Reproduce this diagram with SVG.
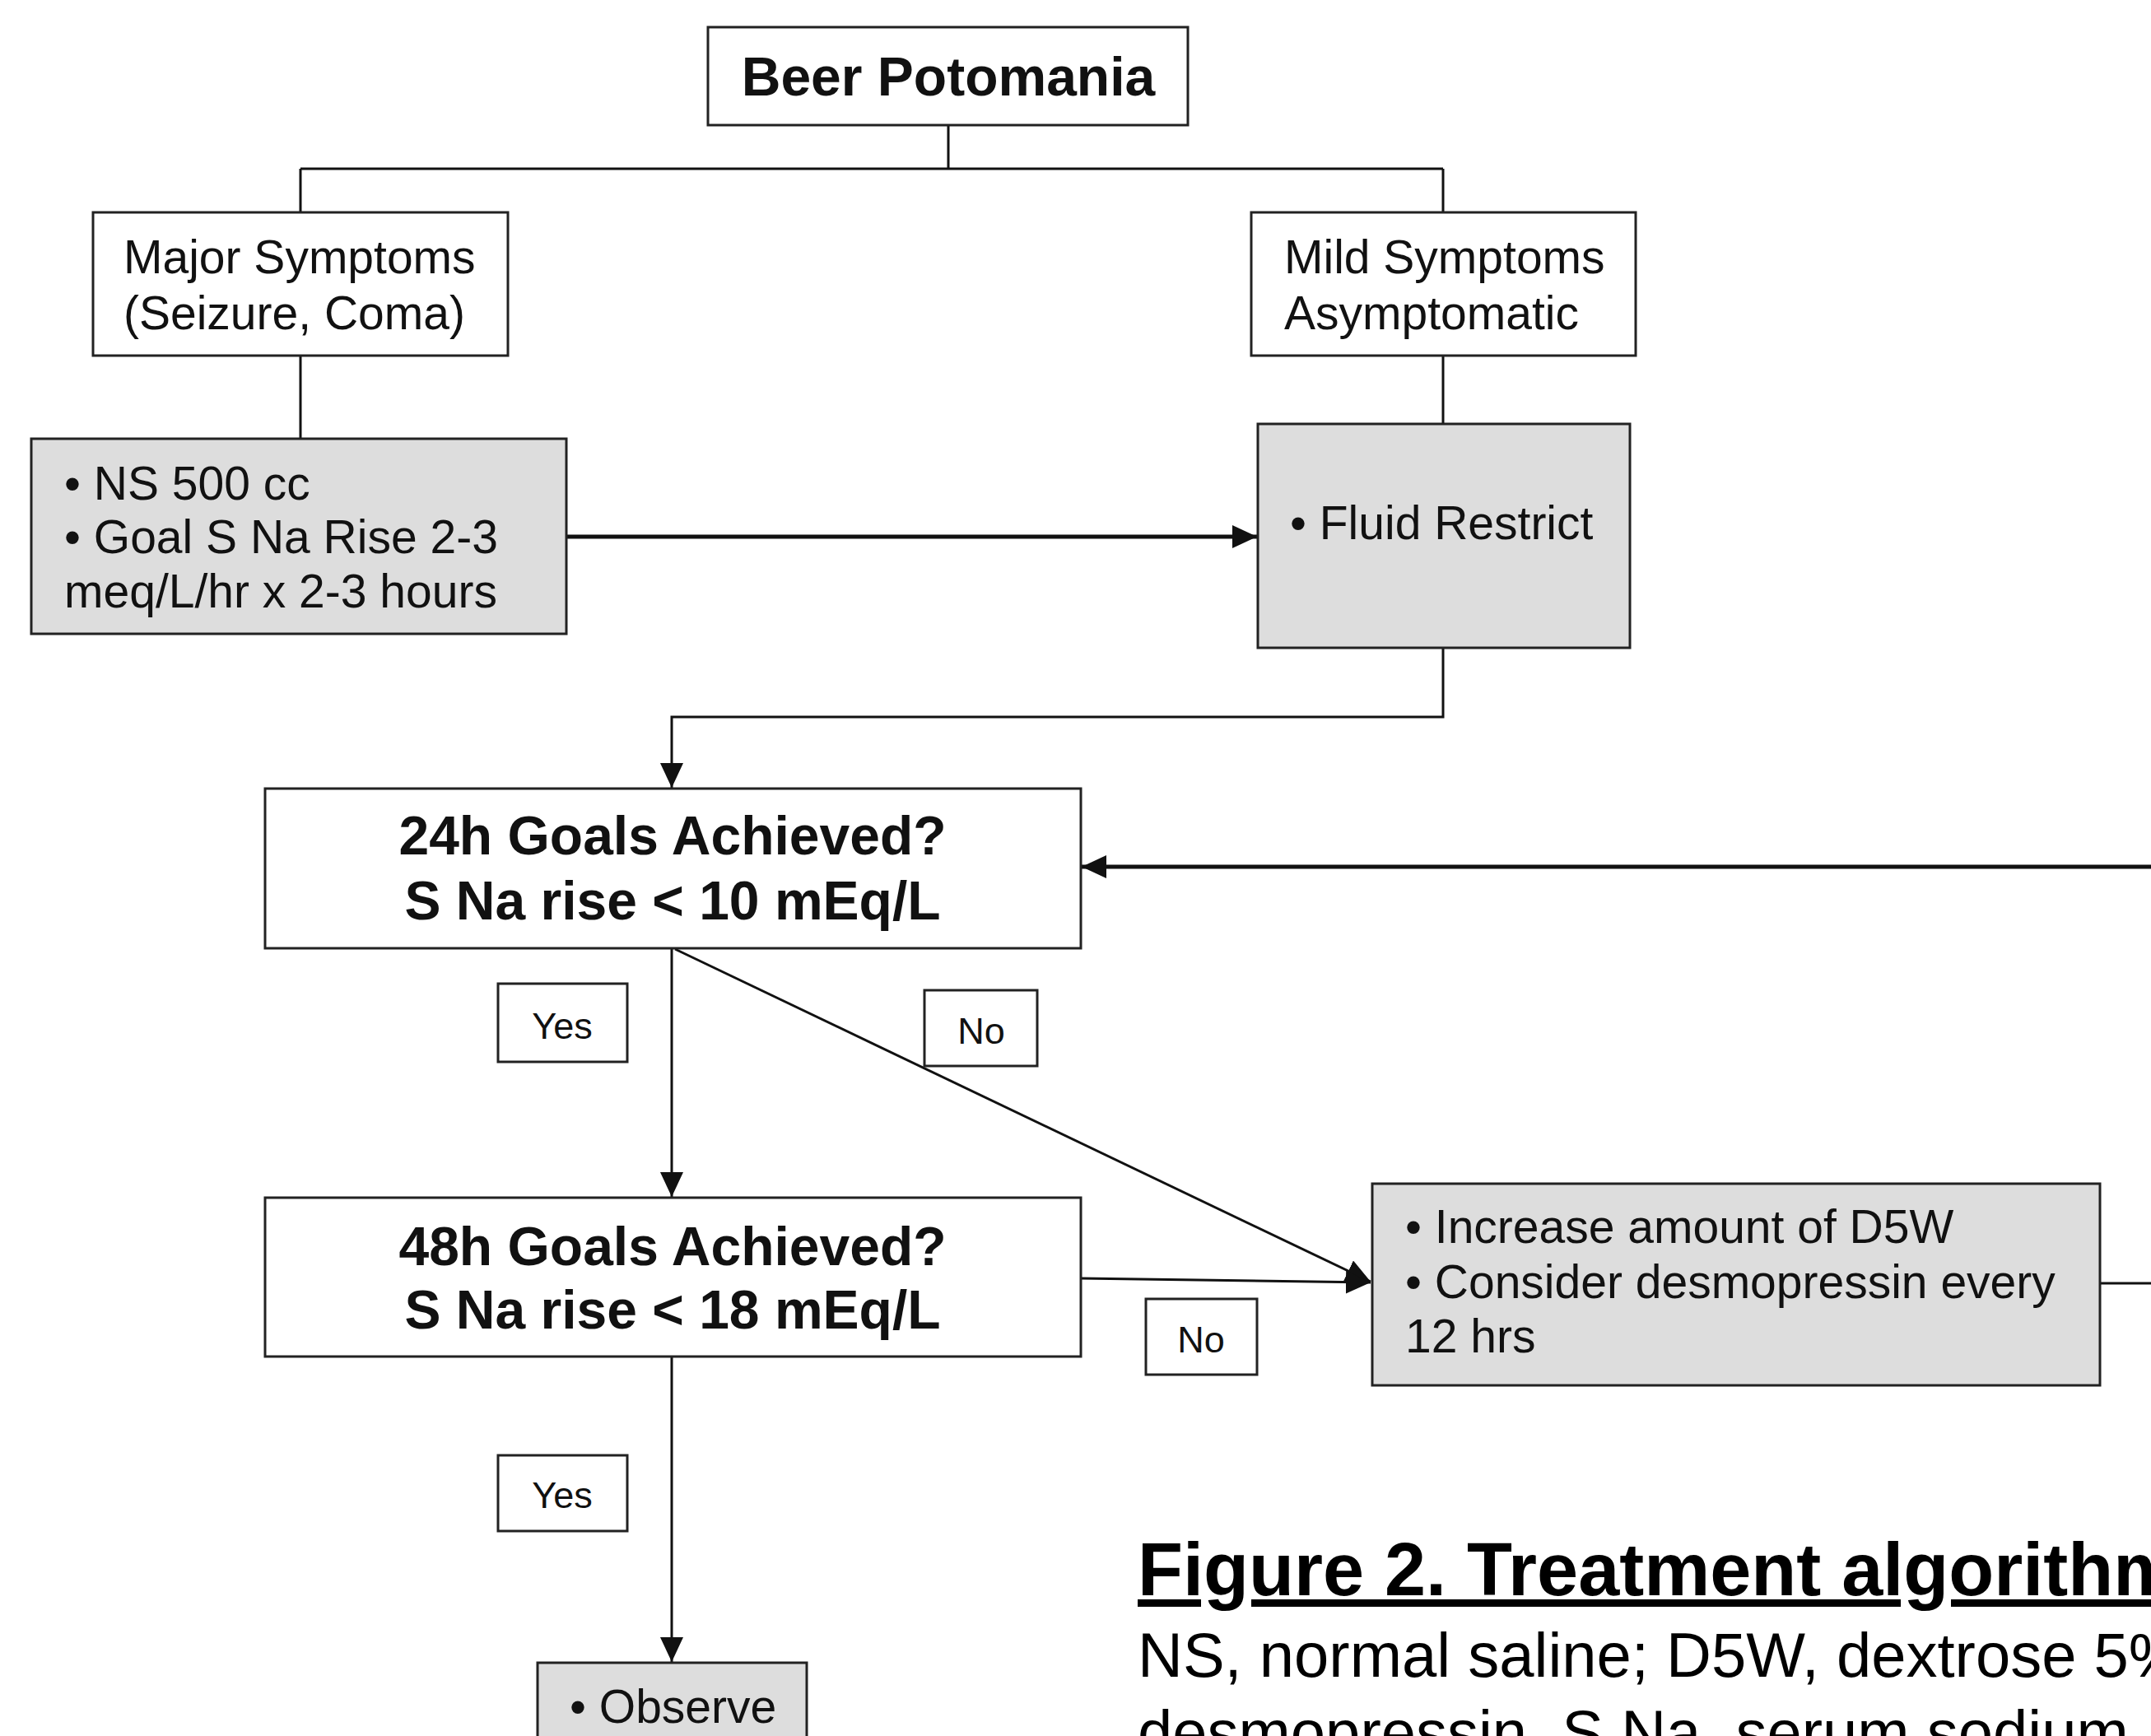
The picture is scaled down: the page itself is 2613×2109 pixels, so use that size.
<svg xmlns="http://www.w3.org/2000/svg" width="2613" height="2109" viewBox="0 0 2613 2109">
<defs>
<style>
.box{fill:#ffffff;stroke:#222;stroke-width:3}
.gray{fill:#dddddd;stroke:#222;stroke-width:3}
.t{font-family:"Liberation Sans",Arial,sans-serif;font-size:57px;fill:#111}
.b{font-family:"Liberation Sans",Arial,sans-serif;font-weight:bold;font-size:66px;fill:#111}
.lbl{font-family:"Liberation Sans",Arial,sans-serif;font-size:45px;fill:#111}
.cap{font-family:"Liberation Sans",Arial,sans-serif;fill:#000}
.ln{fill:none;stroke:#111;stroke-width:3}
.thick{fill:none;stroke:#111;stroke-width:5}
</style>
<marker id="ah" markerUnits="userSpaceOnUse" markerWidth="30" markerHeight="28" refX="30" refY="14" orient="auto">
<path d="M0,0 L30,14 L0,28 Z" fill="#111"/>
</marker>
</defs>
<rect width="2613" height="2109" fill="#ffffff"/>
<g id="connectors">
<path class="ln" d="M1152,152 V205 M365,205 H1753 M365,205 V258 M1753,205 V258"/>
<path class="ln" d="M365,432 V533"/>
<path class="ln" d="M1753,432 V515"/>
<path class="thick" d="M688,652 H1527" marker-end="url(#ah)"/>
<path class="ln" d="M1753,787 V871 H816 V957" stroke-width="4" marker-end="url(#ah)"/>
<path class="thick" d="M2613,1053 H1314" marker-end="url(#ah)"/>
<path class="ln" d="M816,1152 V1454" marker-end="url(#ah)"/>
<path class="ln" d="M820,1153 L1665,1557" stroke-width="4" marker-end="url(#ah)"/>
<path class="ln" d="M1313,1553 L1665,1558" stroke-width="4" marker-end="url(#ah)"/>
<path class="ln" d="M2551,1559 H2613" stroke-width="4"/>
<path class="ln" d="M816,1648 V2019" marker-end="url(#ah)"/>
</g>
<g id="node-beer">
<rect class="box" x="860" y="33" width="583" height="119"/>
<text class="b" x="1152" y="116" text-anchor="middle" font-size="65">Beer Potomania</text>
</g>
<g id="node-major">
<rect class="box" x="113" y="258" width="504" height="174"/>
<text class="t" x="150" y="332">Major Symptoms</text>
<text class="t" x="150" y="400">(Seizure, Coma)</text>
</g>
<g id="node-mild">
<rect class="box" x="1520" y="258" width="467" height="174"/>
<text class="t" x="1560" y="332">Mild Symptoms</text>
<text class="t" x="1560" y="400">Asymptomatic</text>
</g>
<g id="node-ns">
<rect class="gray" x="38" y="533" width="650" height="237"/>
<text class="t" x="78" y="607">• NS 500 cc</text>
<text class="t" x="78" y="672">• Goal S Na Rise 2-3</text>
<text class="t" x="78" y="738">meq/L/hr x 2-3 hours</text>
</g>
<g id="node-fluid">
<rect class="gray" x="1528" y="515" width="452" height="272"/>
<text class="t" x="1567" y="655">• Fluid Restrict</text>
</g>
<g id="node-24h">
<rect class="box" x="322" y="958" width="991" height="194"/>
<text class="b" x="817" y="1038" text-anchor="middle">24h Goals Achieved?</text>
<text class="b" x="817" y="1117" text-anchor="middle">S Na rise &lt; 10 mEq/L</text>
</g>
<g id="label-yes1">
<rect class="box" x="605" y="1195" width="157" height="95"/>
<text class="lbl" x="683" y="1262" text-anchor="middle">Yes</text>
</g>
<g id="label-no1">
<rect class="box" x="1123" y="1203" width="137" height="92"/>
<text class="lbl" x="1192" y="1268" text-anchor="middle">No</text>
</g>
<g id="node-48h">
<rect class="box" x="322" y="1455" width="991" height="193"/>
<text class="b" x="817" y="1537" text-anchor="middle">48h Goals Achieved?</text>
<text class="b" x="817" y="1614" text-anchor="middle">S Na rise &lt; 18 mEq/L</text>
</g>
<g id="label-no2">
<rect class="box" x="1392" y="1578" width="135" height="92"/>
<text class="lbl" x="1459" y="1643" text-anchor="middle">No</text>
</g>
<g id="node-increase">
<rect class="gray" x="1667" y="1438" width="884" height="245"/>
<text class="t" x="1707" y="1510">• Increase amount of D5W</text>
<text class="t" x="1707" y="1577">• Consider desmopressin every</text>
<text class="t" x="1707" y="1643">12 hrs</text>
</g>
<g id="label-yes2">
<rect class="box" x="605" y="1768" width="157" height="92"/>
<text class="lbl" x="683" y="1832" text-anchor="middle">Yes</text>
</g>
<g id="node-observe">
<rect class="gray" x="653" y="2020" width="327" height="120"/>
<text class="t" x="692" y="2093">• Observe</text>
</g>
<g id="caption">
<text class="cap" x="1382" y="1938" font-size="90" font-weight="bold" text-decoration="underline">Figure 2. Treatment algorithm</text>
<text class="cap" x="1382" y="2037" font-size="76">NS, normal saline; D5W, dextrose 5%</text>
<text class="cap" x="1382" y="2131" font-size="76">desmopressin, S Na, serum sodium</text>
</g>
</svg>
